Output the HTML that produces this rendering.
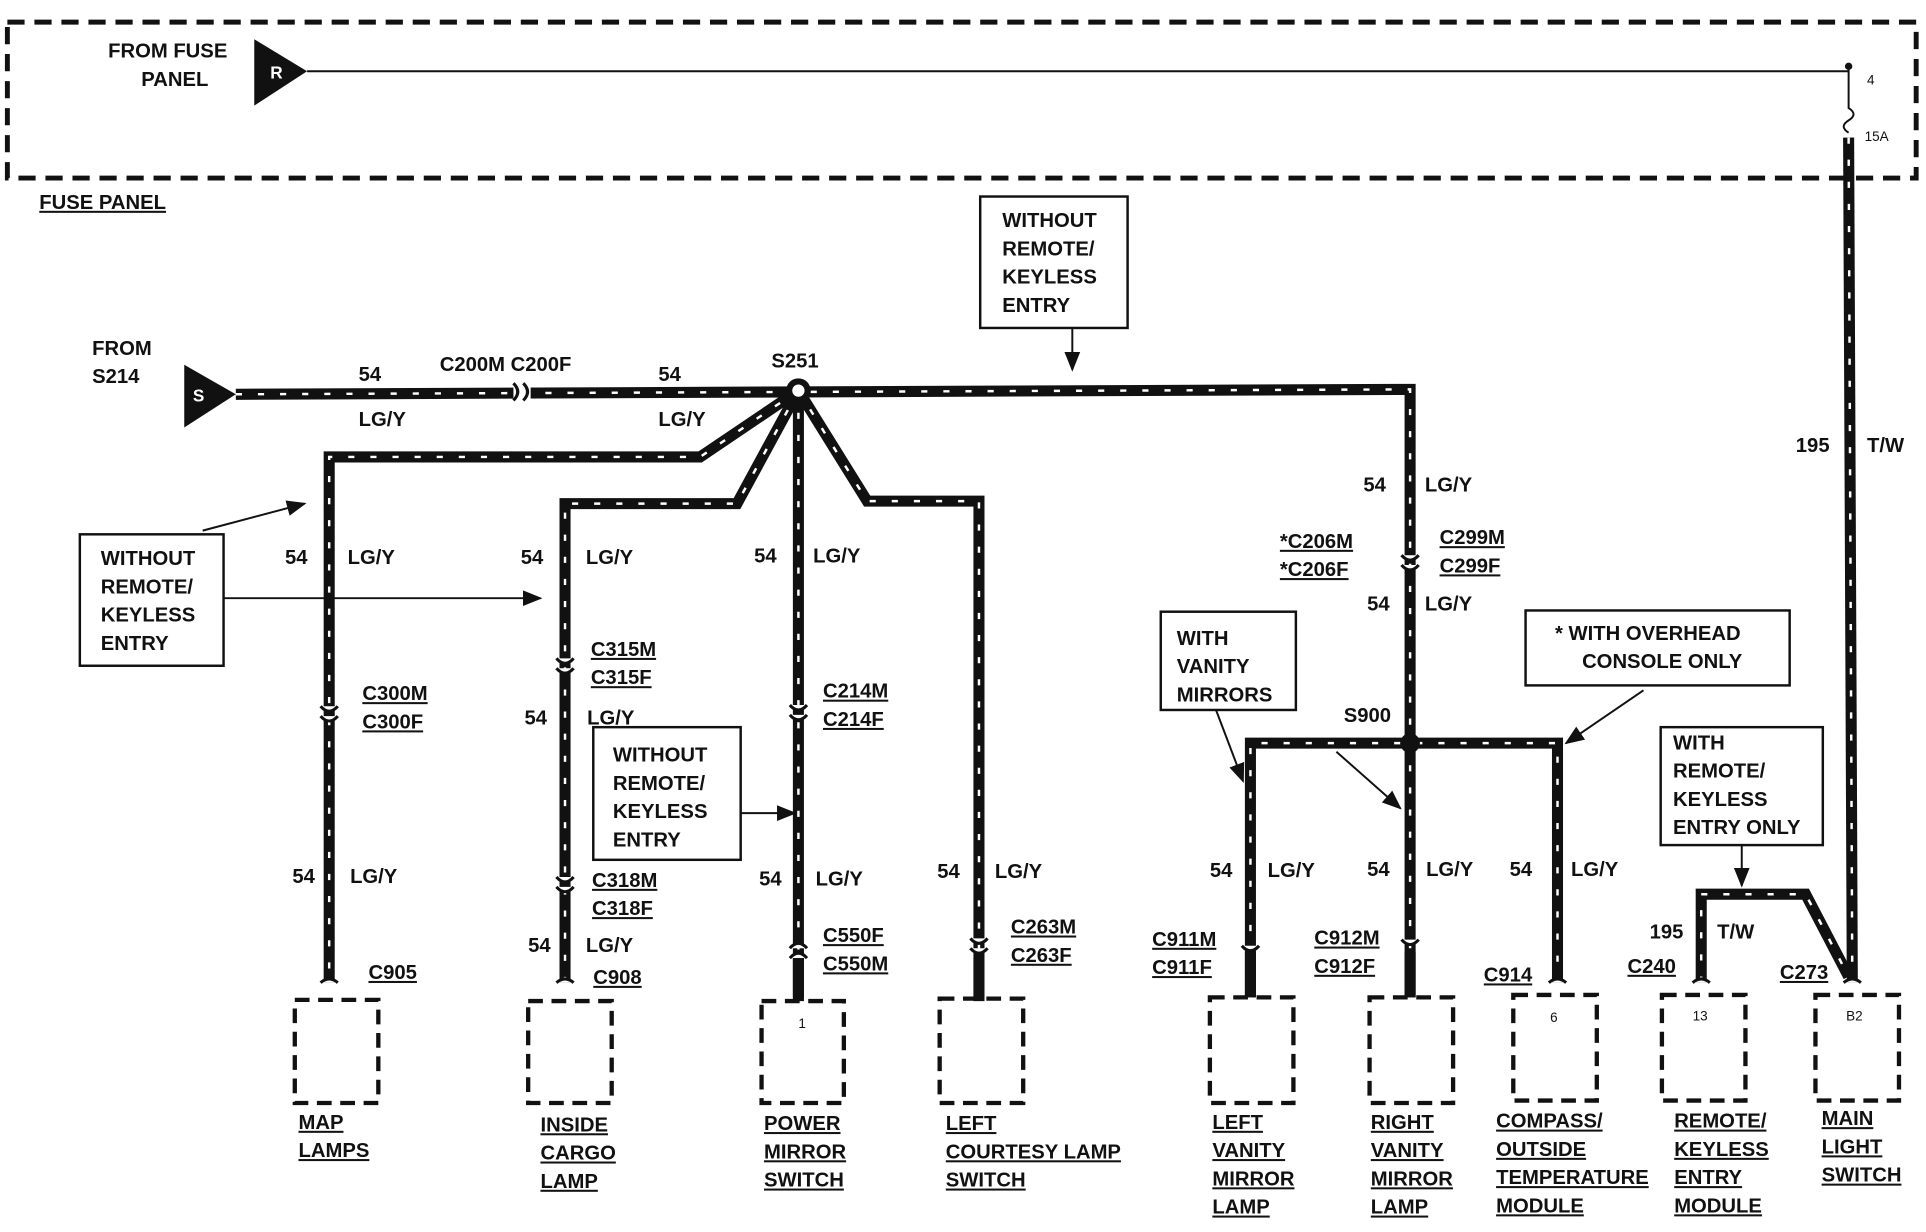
<!DOCTYPE html>
<html><head><meta charset="utf-8"><style>
html,body{margin:0;padding:0;background:#fff}
svg{display:block}
text{font-family:"Liberation Sans",Arial,sans-serif;font-weight:bold;font-size:16.5px;fill:#111}
.w{fill:none;stroke:#111;stroke-width:9;stroke-linejoin:miter}
.d{fill:none;stroke:#fff;stroke-width:2;stroke-dasharray:5 13}
.t{fill:none;stroke:#111;stroke-width:1.6}
.bx{fill:none;stroke:#111;stroke-width:2}
.db{fill:none;stroke:#111;stroke-width:4;stroke-dasharray:14 8}
.u{text-decoration:underline}
.s{font-size:11px;font-weight:normal}
</style></head><body>
<svg width="1926" height="1232" viewBox="0 0 1568 1003" preserveAspectRatio="none" xmlns="http://www.w3.org/2000/svg">
<defs>
<marker id="ar" markerWidth="10" markerHeight="10" refX="9" refY="5" orient="auto"><path d="M0,1 L10,5 L0,9z" fill="#111"/></marker>
<path id="p1" d="M192,321 L1148,317 L1148,605"/>
<path id="p2" d="M650,318 L570,372 L268,372 L268,800"/>
<path id="p3" d="M650,318 L600,410 L460,410 L460,800"/>
<path id="p4" d="M650,318 L650,812"/>
<path id="p5" d="M650,318 L706,408 L797,408 L797,812"/>
<path id="p6" d="M1018,812 L1018,605 L1268,605 L1268,800"/>
<path id="p7" d="M1148,605 L1148,812"/>
<path id="p8" d="M1505,112 L1508,800"/>
<path id="p9" d="M1385,800 L1385,728 L1470,728 L1505,795"/>
</defs>
<!-- fuse panel -->
<path class="db" d="M6,18 H1560 V145 H6 Z"/>
<text x="88" y="47">FROM FUSE</text><text x="115" y="70">PANEL</text>
<path d="M207,32 L250,58 L207,86Z" fill="#111"/><text x="220" y="64" style="fill:#fff;font-size:14px">R</text>
<path class="t" d="M250,58 H1505"/>
<circle cx="1505" cy="54" r="3" fill="#111"/>
<path class="t" d="M1505,54 V88 q8,5 0,10 q-8,5 0,10"/>
<text x="1520" y="69" class="s">4</text><text x="1518" y="115" class="s">15A</text>
<text x="32" y="170" class="u">FUSE PANEL</text>
<!-- S214 -->
<text x="75" y="289">FROM</text><text x="75" y="312">S214</text>
<path d="M150,297 L192,321 L150,348Z" fill="#111"/><text x="157" y="327" style="fill:#fff;font-size:14px">S</text>
<!-- wires -->
<g><use href="#p1" class="w"/><use href="#p2" class="w"/><use href="#p3" class="w"/><use href="#p4" class="w"/><use href="#p5" class="w"/><use href="#p6" class="w"/><use href="#p7" class="w"/><use href="#p8" class="w"/><use href="#p9" class="w"/>
<use href="#p1" class="d"/><use href="#p2" class="d"/><use href="#p3" class="d"/><use href="#p4" class="d"/><use href="#p5" class="d"/><use href="#p6" class="d"/><use href="#p7" class="d"/><use href="#p8" class="d"/><use href="#p9" class="d"/></g>
<!-- C200 -->
<rect x="418" y="312" width="14" height="14" fill="#fff"/><path class="t" style="stroke-width:2.5" d="M418,312 q7,7 0,14 M426,312 q7,7 0,14"/>
<circle cx="650" cy="318" r="10" fill="#111"/><circle cx="650" cy="318" r="5" fill="#fff"/>
<circle cx="1148" cy="605" r="8" fill="#111"/>
<!-- connectors (vertical) -->
<g fill="#fff" stroke="#111" stroke-width="2.5">
<path d="M261,575 q7,8 14,0 M261,583 q7,8 14,0"/>
<path d="M453,536 q7,8 14,0 M453,544 q7,8 14,0"/>
<path d="M453,714 q7,8 14,0 M453,722 q7,8 14,0"/>
<path d="M643,574 q7,8 14,0 M643,582 q7,8 14,0"/>
<path d="M643,772 q7,-8 14,0 M643,780 q7,-8 14,0"/>
<path d="M790,764 q7,8 14,0 M790,772 q7,8 14,0"/>
<path d="M1141,452 q7,8 14,0 M1141,460 q7,8 14,0"/>
<path d="M1011,770 q7,8 14,0"/>
<path d="M1141,765 q7,8 14,0"/>
<path d="M261,800 q7,-6 14,0 M453,800 q7,-6 14,0 M1261,800 q7,-6 14,0 M1378,800 q7,-6 14,0 M1501,800 q7,-6 14,0"/>
</g>
<!-- labels -->
<text x="292" y="310">54</text><text x="292" y="347">LG/Y</text>
<text x="358" y="302">C200M C200F</text>
<text x="536" y="310">54</text><text x="536" y="347">LG/Y</text>
<text x="628" y="299">S251</text>
<text x="232" y="459">54</text><text x="283" y="459">LG/Y</text>
<text x="295" y="570" class="u">C300M</text><text x="295" y="593" class="u">C300F</text>
<text x="238" y="719">54</text><text x="285" y="719">LG/Y</text>
<text x="300" y="797" class="u">C905</text>
<text x="424" y="459">54</text><text x="477" y="459">LG/Y</text>
<text x="481" y="534" class="u">C315M</text><text x="481" y="557" class="u">C315F</text>
<text x="427" y="590">54</text><text x="478" y="590">LG/Y</text>
<text x="482" y="722" class="u">C318M</text><text x="482" y="745" class="u">C318F</text>
<text x="430" y="775">54</text><text x="477" y="775">LG/Y</text>
<text x="483" y="801" class="u">C908</text>
<text x="614" y="458">54</text><text x="662" y="458">LG/Y</text>
<text x="670" y="568" class="u">C214M</text><text x="670" y="591" class="u">C214F</text>
<text x="618" y="721">54</text><text x="664" y="721">LG/Y</text>
<text x="670" y="767" class="u">C550F</text><text x="670" y="790" class="u">C550M</text>
<text x="763" y="715">54</text><text x="810" y="715">LG/Y</text>
<text x="823" y="760" class="u">C263M</text><text x="823" y="783" class="u">C263F</text>
<text x="1110" y="400">54</text><text x="1160" y="400">LG/Y</text>
<text x="1042" y="446" class="u">*C206M</text><text x="1042" y="469" class="u">*C206F</text>
<text x="1172" y="443" class="u">C299M</text><text x="1172" y="466" class="u">C299F</text>
<text x="1113" y="497">54</text><text x="1160" y="497">LG/Y</text>
<text x="1094" y="588">S900</text>
<text x="985" y="714">54</text><text x="1032" y="714">LG/Y</text>
<text x="1113" y="713">54</text><text x="1161" y="713">LG/Y</text>
<text x="1229" y="713">54</text><text x="1279" y="713">LG/Y</text>
<text x="938" y="770" class="u">C911M</text><text x="938" y="793" class="u">C911F</text>
<text x="1070" y="769" class="u">C912M</text><text x="1070" y="792" class="u">C912F</text>
<text x="1208" y="799" class="u">C914</text>
<text x="1462" y="368">195</text><text x="1520" y="368">T/W</text>
<text x="1343" y="764">195</text><text x="1398" y="764">T/W</text>
<text x="1325" y="792" class="u">C240</text>
<text x="1449" y="797" class="u">C273</text>
<!-- wire stubs into boxes -->
<path d="M650,780 V815 M797,780 V815 M1018,775 V812 M1148,775 V812" stroke="#111" stroke-width="9"/>
<!-- device boxes -->
<g class="db" style="stroke-width:3.5;stroke-dasharray:12 7">
<rect x="240" y="814" width="68" height="84"/><rect x="430" y="815" width="68" height="83"/>
<rect x="620" y="815" width="67" height="83"/><rect x="765" y="813" width="68" height="85"/>
<rect x="985" y="812" width="68" height="86"/><rect x="1115" y="812" width="68" height="86"/>
<rect x="1232" y="810" width="68" height="86"/><rect x="1353" y="810" width="68" height="86"/>
<rect x="1478" y="810" width="68" height="86"/></g>
<text x="650" y="837" class="s">1</text><text x="1262" y="832" class="s">6</text><text x="1378" y="831" class="s">13</text><text x="1503" y="831" class="s">B2</text>
<!-- bottom labels -->
<text x="243" y="919" class="u">MAP</text><text x="243" y="942" class="u">LAMPS</text>
<text x="440" y="921" class="u">INSIDE</text><text x="440" y="944" class="u">CARGO</text><text x="440" y="967" class="u">LAMP</text>
<text x="622" y="920" class="u">POWER</text><text x="622" y="943" class="u">MIRROR</text><text x="622" y="966" class="u">SWITCH</text>
<text x="770" y="920" class="u">LEFT</text><text x="770" y="943" class="u">COURTESY LAMP</text><text x="770" y="966" class="u">SWITCH</text>
<text x="987" y="919" class="u">LEFT</text><text x="987" y="942" class="u">VANITY</text><text x="987" y="965" class="u">MIRROR</text><text x="987" y="988" class="u">LAMP</text>
<text x="1116" y="919" class="u">RIGHT</text><text x="1116" y="942" class="u">VANITY</text><text x="1116" y="965" class="u">MIRROR</text><text x="1116" y="988" class="u">LAMP</text>
<text x="1218" y="918" class="u">COMPASS/</text><text x="1218" y="941" class="u">OUTSIDE</text><text x="1218" y="964" class="u">TEMPERATURE</text><text x="1218" y="987" class="u">MODULE</text>
<text x="1363" y="918" class="u">REMOTE/</text><text x="1363" y="941" class="u">KEYLESS</text><text x="1363" y="964" class="u">ENTRY</text><text x="1363" y="987" class="u">MODULE</text>
<text x="1483" y="916" class="u">MAIN</text><text x="1483" y="939" class="u">LIGHT</text><text x="1483" y="962" class="u">SWITCH</text>
<!-- note boxes -->
<rect class="bx" x="798" y="160" width="120" height="107"/>
<text x="816" y="185">WITHOUT</text><text x="816" y="208">REMOTE/</text><text x="816" y="231">KEYLESS</text><text x="816" y="254">ENTRY</text>
<path class="t" d="M873,267 V301" marker-end="url(#ar)"/>
<rect class="bx" x="65" y="435" width="117" height="107"/>
<text x="82" y="460">WITHOUT</text><text x="82" y="483">REMOTE/</text><text x="82" y="506">KEYLESS</text><text x="82" y="529">ENTRY</text>
<path class="t" d="M165,432 L248,410" marker-end="url(#ar)"/>
<path class="t" d="M182,487 H440" marker-end="url(#ar)"/>
<rect class="bx" x="483" y="592" width="120" height="108"/>
<text x="499" y="620">WITHOUT</text><text x="499" y="643">REMOTE/</text><text x="499" y="666">KEYLESS</text><text x="499" y="689">ENTRY</text>
<path class="t" d="M603,662 H647" marker-end="url(#ar)"/>
<rect class="bx" x="945" y="498" width="110" height="80"/>
<text x="958" y="525">WITH</text><text x="958" y="548">VANITY</text><text x="958" y="571">MIRRORS</text>
<path class="t" d="M990,578 L1012,636" marker-end="url(#ar)"/>
<path class="t" d="M1088,612 L1140,658" marker-end="url(#ar)"/>
<rect class="bx" x="1242" y="497" width="215" height="61"/>
<text x="1266" y="521">*  WITH OVERHEAD</text><text x="1288" y="544">CONSOLE ONLY</text>
<path class="t" d="M1338,562 L1275,605" marker-end="url(#ar)"/>
<rect class="bx" x="1352" y="592" width="132" height="96"/>
<text x="1362" y="610">WITH</text><text x="1362" y="633">REMOTE/</text><text x="1362" y="656">KEYLESS</text><text x="1362" y="679">ENTRY ONLY</text>
<path class="t" d="M1418,688 V721" marker-end="url(#ar)"/>
</svg>
</body></html>
